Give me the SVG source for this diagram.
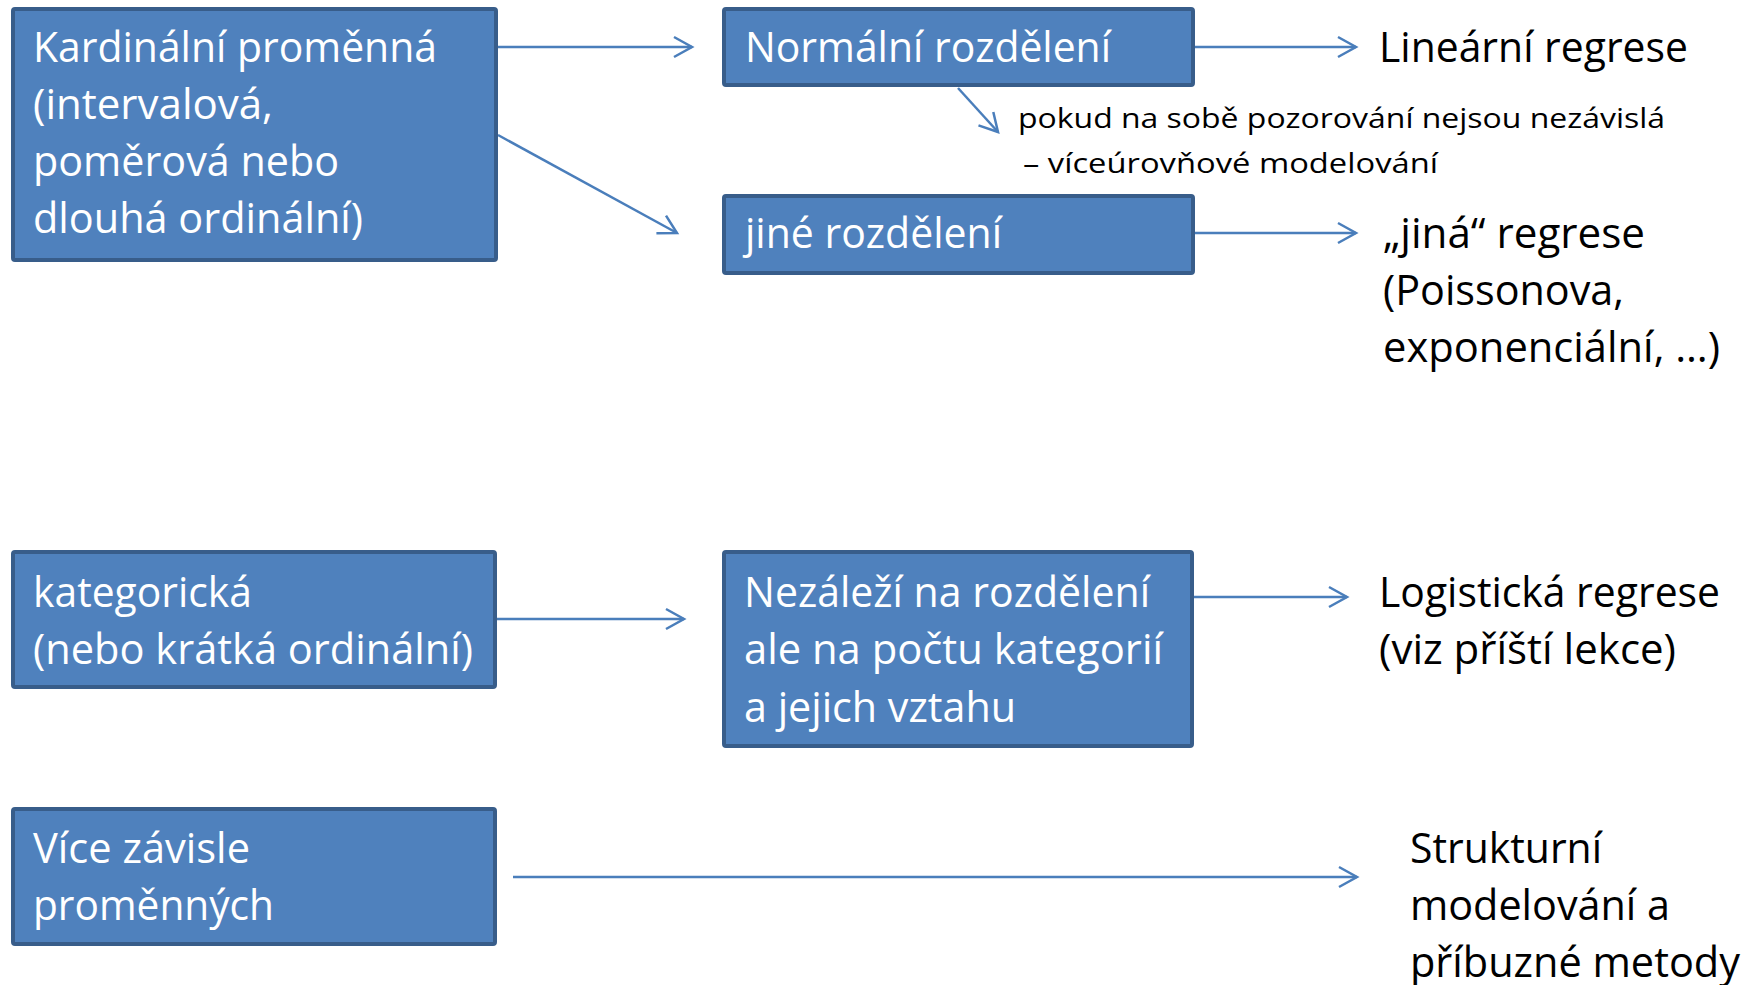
<svg xmlns="http://www.w3.org/2000/svg" width="1756" height="985" viewBox="0 0 1756 985">
<style>
.box{fill:#4F81BD;stroke:#385D8A;stroke-width:4}
.wt{font-family:"Open Sans","Noto Sans","Liberation Sans",sans-serif;font-size:42px;fill:#FFFFFF}
.bt{font-family:"Open Sans","Noto Sans","Liberation Sans",sans-serif;font-size:42px;fill:#000000}
.st{font-family:"Open Sans","Noto Sans","Liberation Sans",sans-serif;font-size:28px;fill:#000000}
.arr{stroke:#4A7EBB;stroke-width:2.5;fill:none;marker-end:url(#ah)}
</style>
<defs>
<marker id="ah" markerUnits="userSpaceOnUse" markerWidth="24" markerHeight="26" refX="19" refY="11" orient="auto" viewBox="-2 -2 24 26">
<path d="M1,1 L19,11 L1,21" fill="none" stroke="#4A7EBB" stroke-width="2.5"/>
</marker>
</defs>
<rect width="1756" height="985" fill="#FFFFFF"/>
<g id="connectors">
<line class="arr" x1="498" y1="47" x2="692" y2="47"/>
<line class="arr" x1="498" y1="135" x2="677" y2="233"/>
<line class="arr" x1="1195" y1="47" x2="1356" y2="47"/>
<line class="arr" x1="958" y1="88" x2="998" y2="132"/>
<line class="arr" x1="1195" y1="233" x2="1356" y2="233"/>
<line class="arr" x1="497" y1="619" x2="684" y2="619"/>
<line class="arr" x1="1194" y1="597" x2="1347" y2="597"/>
<line class="arr" x1="513" y1="877" x2="1357" y2="877"/>
</g>
<g id="n-kardinalni">
<rect class="box" x="13" y="9" width="483" height="251" rx="2"/>
<text class="wt" x="33" y="62" textLength="404" lengthAdjust="spacingAndGlyphs">Kardinální proměnná</text>
<text class="wt" x="33" y="119" textLength="240" lengthAdjust="spacingAndGlyphs">(intervalová,</text>
<text class="wt" x="33" y="176" textLength="306" lengthAdjust="spacingAndGlyphs">poměrová nebo</text>
<text class="wt" x="33" y="233" textLength="330" lengthAdjust="spacingAndGlyphs">dlouhá ordinální)</text>
</g>
<g id="n-normalni">
<rect class="box" x="724" y="9" width="469" height="76" rx="2"/>
<text class="wt" x="745" y="62" textLength="366" lengthAdjust="spacingAndGlyphs">Normální rozdělení</text>
</g>
<g id="n-jine">
<rect class="box" x="724" y="196" width="469" height="77" rx="2"/>
<text class="wt" x="745" y="248" textLength="257" lengthAdjust="spacingAndGlyphs">jiné rozdělení</text>
</g>
<g id="n-linearni">
<text class="bt" x="1379" y="62" textLength="309" lengthAdjust="spacingAndGlyphs">Lineární regrese</text>
</g>
<g id="n-poznamka">
<text class="st" x="1018" y="128" textLength="647" lengthAdjust="spacingAndGlyphs">pokud na sobě pozorování nejsou nezávislá</text>
<text class="st" x="1023" y="173" textLength="415" lengthAdjust="spacingAndGlyphs">– víceúrovňové modelování</text>
</g>
<g id="n-jina-regrese">
<text class="bt" x="1383" y="248" textLength="262" lengthAdjust="spacingAndGlyphs">„jiná“ regrese</text>
<text class="bt" x="1383" y="305" textLength="241" lengthAdjust="spacingAndGlyphs">(Poissonova,</text>
<text class="bt" x="1383" y="362" textLength="337" lengthAdjust="spacingAndGlyphs">exponenciální, …)</text>
</g>
<g id="n-kategoricka">
<rect class="box" x="13" y="552" width="482" height="135" rx="2"/>
<text class="wt" x="33" y="607" textLength="219" lengthAdjust="spacingAndGlyphs">kategorická</text>
<text class="wt" x="33" y="664" textLength="440" lengthAdjust="spacingAndGlyphs">(nebo krátká ordinální)</text>
</g>
<g id="n-nezalezi">
<rect class="box" x="724" y="552" width="468" height="194" rx="2"/>
<text class="wt" x="744" y="607" textLength="406" lengthAdjust="spacingAndGlyphs">Nezáleží na rozdělení</text>
<text class="wt" x="744" y="664" textLength="419" lengthAdjust="spacingAndGlyphs">ale na počtu kategorií</text>
<text class="wt" x="744" y="722" textLength="272" lengthAdjust="spacingAndGlyphs">a jejich vztahu</text>
</g>
<g id="n-logisticka">
<text class="bt" x="1379" y="607" textLength="341" lengthAdjust="spacingAndGlyphs">Logistická regrese</text>
<text class="bt" x="1379" y="664" textLength="297" lengthAdjust="spacingAndGlyphs">(viz příští lekce)</text>
</g>
<g id="n-vice">
<rect class="box" x="13" y="809" width="482" height="135" rx="2"/>
<text class="wt" x="33" y="863" textLength="217" lengthAdjust="spacingAndGlyphs">Více závisle</text>
<text class="wt" x="33" y="920" textLength="241" lengthAdjust="spacingAndGlyphs">proměnných</text>
</g>
<g id="n-strukturni">
<text class="bt" x="1410" y="863" textLength="192" lengthAdjust="spacingAndGlyphs">Strukturní</text>
<text class="bt" x="1410" y="920" textLength="260" lengthAdjust="spacingAndGlyphs">modelování a</text>
<text class="bt" x="1410" y="977" textLength="330" lengthAdjust="spacingAndGlyphs">příbuzné metody</text>
</g>
</svg>
